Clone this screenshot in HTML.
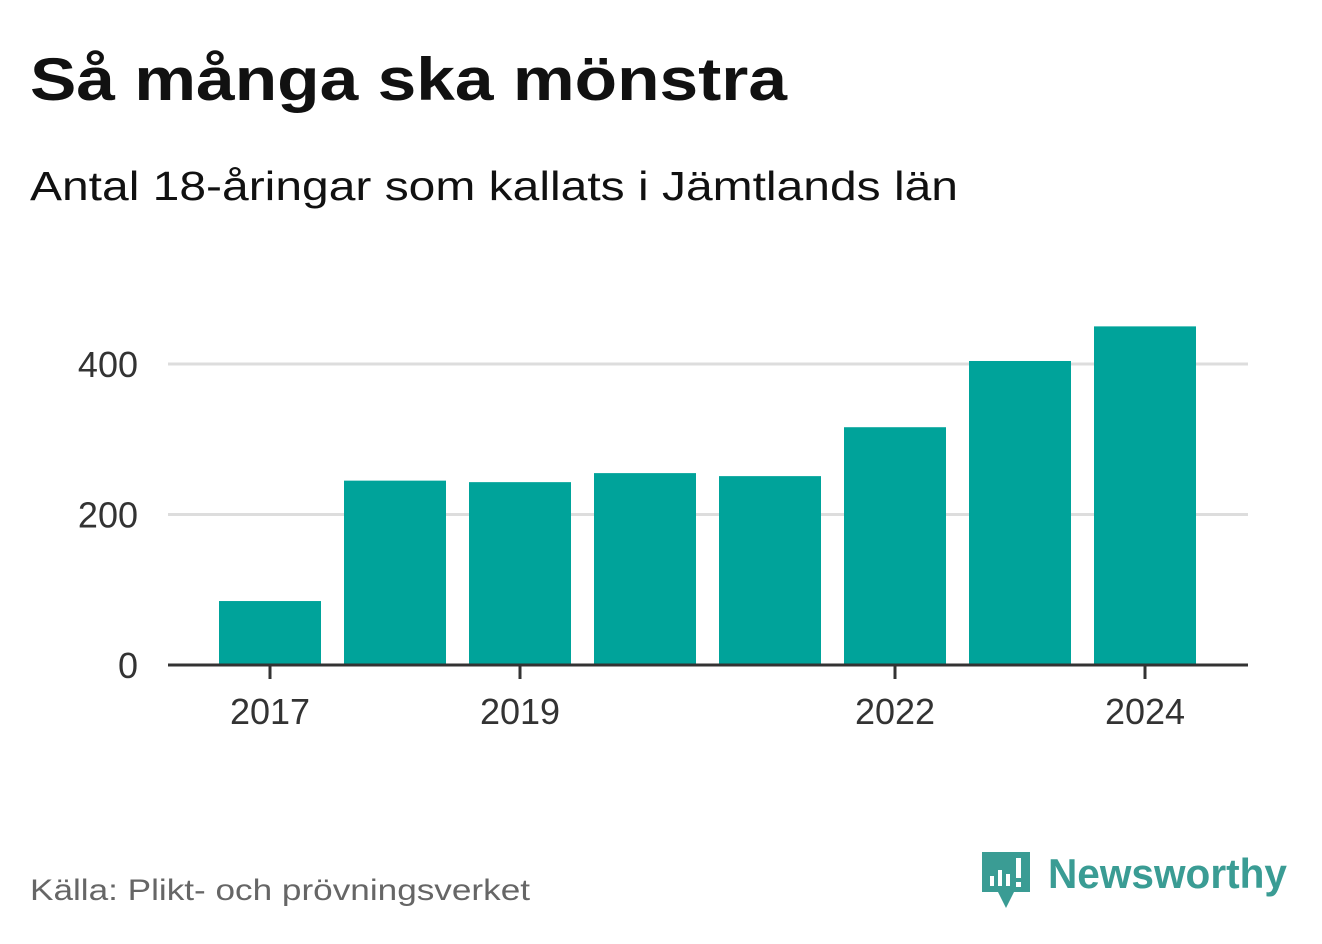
<!DOCTYPE html>
<html><head><meta charset="utf-8"><style>
body{margin:0;background:#fff;width:1322px;height:939px;overflow:hidden;font-family:"Liberation Sans",sans-serif}
</style></head><body>
<svg width="1322" height="939">
<text x="30" y="100" font-size="60" font-weight="bold" fill="#111" textLength="757" lengthAdjust="spacingAndGlyphs">Så många ska mönstra</text>
<text x="30" y="200" font-size="41" fill="#111" textLength="928" lengthAdjust="spacingAndGlyphs">Antal 18-åringar som kallats i Jämtlands län</text>
<g id="grid"></g><g id="bars"></g><g id="axes"></g>
<text x="30" y="900" font-size="30" fill="#666" textLength="500" lengthAdjust="spacingAndGlyphs">Källa: Plikt- och prövningsverket</text>
<g>
<path d="M982 852 h48 v40 h-16 l-8 16 l-8 -16 h-16 z" fill="#3a9c94"/>
<rect x="990" y="876" width="4" height="10" fill="#fff"/><rect x="998" y="870" width="4" height="16" fill="#fff"/><rect x="1006" y="874" width="4" height="12" fill="#fff"/><rect x="1016" y="858" width="5" height="20" fill="#fff"/><rect x="1016" y="882" width="5" height="5" fill="#fff"/>
<text x="1048" y="888" font-size="42" font-weight="bold" fill="#3a9c94" textLength="239" lengthAdjust="spacingAndGlyphs">Newsworthy</text>
</g>
</svg>
<script>
const years=["2017","2018","2019","2020","2021","2022","2023","2024"];
const values=[85,245,243,255,251,316,404,450];
const yTicks=[0,200,400];
const xTickLabels=["2017","2019","2022","2024"];
const ns="http://www.w3.org/2000/svg";
const y0=665,ppu=(665-364)/400,x0=270,step=125,bw=102;
const yS=v=>y0-v*ppu, xS=i=>x0+i*step;
function mk(t,a,p){const e=document.createElementNS(ns,t);for(const k in a)e.setAttribute(k,a[k]);p.appendChild(e);return e;}
const g=document.getElementById('grid'),b=document.getElementById('bars'),ax=document.getElementById('axes');
yTicks.forEach(v=>{
 if(v>0){const l=mk('line',{x1:168,x2:1248,y1:yS(v),y2:yS(v),stroke:'#ddd','stroke-width':3},g);
 
 }
 const t=mk('text',{x:138,y:yS(v)+13,'font-size':36,fill:'#333','text-anchor':'end'},ax);t.textContent=v;
 
 
});
values.forEach((v,i)=>{
 const r=mk('rect',{x:xS(i)-bw/2,y:yS(v),width:bw,height:y0-yS(v),fill:'#00a39a'},b);
 
 
});
const al=mk('line',{x1:168,x2:1248,y1:y0,y2:y0,stroke:'#333','stroke-width':3},ax);


xTickLabels.forEach(lab=>{
 const i=years.indexOf(lab);
 mk('line',{x1:xS(i),x2:xS(i),y1:y0,y2:y0+14,stroke:'#333','stroke-width':3},ax);
 const t=mk('text',{x:xS(i),y:724,'font-size':36,fill:'#333','text-anchor':'middle'},ax);t.textContent=lab;
 
 
});
</script>
</body></html>
